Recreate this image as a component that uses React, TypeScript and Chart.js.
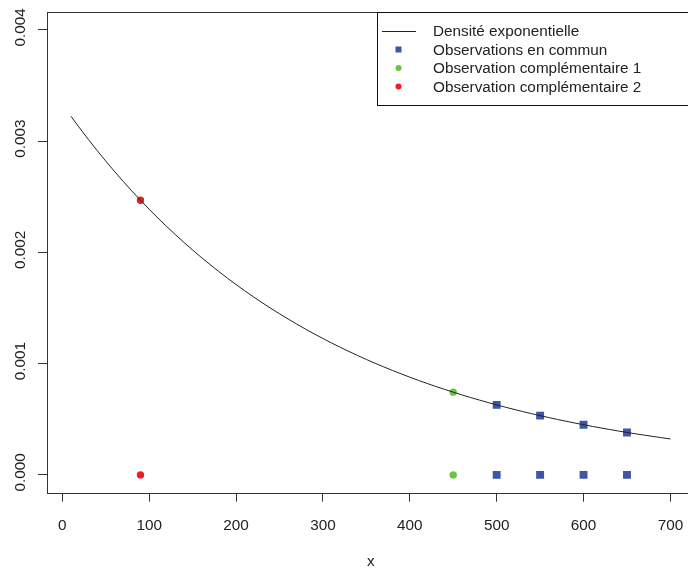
import { useEffect, useRef } from 'react';
import { Chart, registerables } from 'chart.js';
Chart.register(...registerables);

const curveX = [10, 20, 30, 40, 50, 60, 70, 80, 90, 100, 110, 120, 130, 140, 150, 160, 170, 180, 190, 200, 210, 220, 230, 240, 250, 260, 270, 280, 290, 300, 310, 320, 330, 340, 350, 360, 370, 380, 390, 400, 410, 420, 430, 440, 450, 460, 470, 480, 490, 500, 510, 520, 530, 540, 550, 560, 570, 580, 590, 600, 610, 620, 630, 640, 650, 660, 670, 680, 690, 700];
const curveY = [0.0032241, 0.0031184, 0.0030161, 0.0029172, 0.0028216, 0.0027291, 0.0026396, 0.0025531, 0.0024694, 0.0023884, 0.0023101, 0.0022344, 0.0021612, 0.0020903, 0.0020218, 0.0019555, 0.0018914, 0.0018294, 0.0017694, 0.0017114, 0.0016553, 0.0016010, 0.0015485, 0.0014978, 0.0014487, 0.0014012, 0.0013552, 0.0013108, 0.0012678, 0.0012263, 0.0011861, 0.0011472, 0.0011096, 0.0010732, 0.0010380, 0.0010040, 0.0009711, 0.0009392, 0.0009084, 0.0008787, 0.0008498, 0.0008220, 0.0007950, 0.0007690, 0.0007438, 0.0007194, 0.0006958, 0.0006730, 0.0006509, 0.0006296, 0.0006089, 0.0005890, 0.0005697, 0.0005510, 0.0005329, 0.0005155, 0.0004986, 0.0004822, 0.0004664, 0.0004511, 0.0004363, 0.0004220, 0.0004082, 0.0003948, 0.0003819, 0.0003693, 0.0003572, 0.0003455, 0.0003342, 0.0003232];

const communX = [500, 550, 600, 650];
const communY = [0.0006296, 0.0005329, 0.0004511, 0.0003819];
const comp1X = [450];
const comp1Y = [0.0007438];
const comp2X = [90];
const comp2Y = [0.0024694];

const xTicks = [0, 100, 200, 300, 400, 500, 600, 700];
const yTicks = [0, 0.001, 0.002, 0.003, 0.004];
const yTickLabels = ['0.000', '0.001', '0.002', '0.003', '0.004'];
const legendLabels = ['Densité exponentielle', 'Observations en commun', 'Observation complémentaire 1', 'Observation complémentaire 2'];
const xTitle = 'x';

const BLUE = '#3D56A6';
const GREEN = '#6CC244';
const RED = '#EE1C25';
const FONT_FAMILY = '"Liberation Sans", Arial, sans-serif';
const FONT_SIZE = 15.3;

const rPlugin = {
  id: 'rstyle',
  afterDraw(chart: any) {
    const { ctx, chartArea: a, scales } = chart;
    ctx.save();
    ctx.strokeStyle = '#333';
    ctx.lineWidth = 1;
    ctx.strokeRect(Math.round(a.left) + 0.5, Math.round(a.top) + 0.5, Math.round(a.right - a.left), Math.round(a.bottom - a.top));
    ctx.font = `${FONT_SIZE}px ${FONT_FAMILY}`;
    ctx.fillStyle = '#222';
    ctx.textAlign = 'center';
    ctx.textBaseline = 'middle';
    yTicks.forEach((v, i) => {
      const py = scales.y.getPixelForValue(v);
      ctx.save();
      ctx.translate(20.5, py - 2.5);
      ctx.rotate(-Math.PI / 2);
      ctx.fillText(yTickLabels[i], 0, 0);
      ctx.restore();
    });
    ctx.fillText(xTitle, (a.left + a.right) / 2, 562);

    // legend
    const lx = 377.5, ly = Math.round(a.top) + 0.5, lr = a.right + 2, lb = 105.5;
    ctx.fillStyle = '#fff';
    ctx.fillRect(lx, ly, lr - lx, lb - ly);
    ctx.strokeStyle = '#111';
    ctx.strokeRect(lx, ly, lr - lx, lb - ly);
    const rows = [31, 49.5, 68, 86.5];
    const symX = 398.5;
    ctx.textAlign = 'left';
    ctx.fillStyle = '#222';
    legendLabels.forEach((t, i) => ctx.fillText(t, 433, rows[i] + 1));
    ctx.strokeStyle = '#222';
    ctx.beginPath();
    ctx.moveTo(382, rows[0] + 0.5);
    ctx.lineTo(416, rows[0] + 0.5);
    ctx.stroke();
    ctx.fillStyle = BLUE;
    ctx.fillRect(symX - 3, rows[1] - 3, 6, 6);
    ctx.fillStyle = GREEN;
    ctx.beginPath();
    ctx.arc(symX, rows[2], 3, 0, Math.PI * 2);
    ctx.fill();
    ctx.fillStyle = RED;
    ctx.beginPath();
    ctx.arc(symX, rows[3], 3, 0, Math.PI * 2);
    ctx.fill();
    ctx.restore();
  },
};

export default function App() {
  const ref = useRef<HTMLCanvasElement>(null);
  useEffect(() => {
    if (!ref.current) return;
    const onCurve = (xs: number[], ys: number[]) => xs.map((x, i) => ({ x, y: ys[i] })).concat(xs.map((x) => ({ x, y: 0 })));
    const chart = new Chart(ref.current, {
      type: 'scatter',
      data: {
        datasets: [
          {
            label: legendLabels[0],
            data: curveX.map((x, i) => ({ x, y: curveY[i] })),
            showLine: true,
            borderColor: '#222',
            borderWidth: 1,
            pointRadius: 0,
            tension: 0,
          },
          {
            label: legendLabels[1],
            data: onCurve(communX, communY),
            pointStyle: 'rect',
            pointRadius: 5.6,
            backgroundColor: BLUE,
            borderWidth: 0,
          },
          {
            label: legendLabels[2],
            data: onCurve(comp1X, comp1Y),
            pointStyle: 'circle',
            pointRadius: 3.7,
            backgroundColor: GREEN,
            borderWidth: 0,
          },
          {
            label: legendLabels[3],
            data: onCurve(comp2X, comp2Y),
            pointStyle: 'circle',
            pointRadius: 3.7,
            backgroundColor: RED,
            borderWidth: 0,
          },
        ],
      },
      options: {
        animation: false,
        responsive: false,
        layout: { padding: { left: 0, top: 11, right: 4.3, bottom: 0 } },
        plugins: { legend: { display: false }, tooltip: { enabled: false } },
        scales: {
          x: {
            type: 'linear',
            min: -17.6,
            max: 727.6,
            afterBuildTicks: (s: any) => { s.ticks = xTicks.map((v) => ({ value: v })); },
            afterFit: (s: any) => { s.height = 77.3; },
            border: { display: false },
            grid: { drawOnChartArea: false, drawTicks: true, tickLength: 9, color: '#333' },
            ticks: {
              autoSkip: false,
              maxRotation: 0,
              padding: 15,
              color: '#222',
              font: { family: FONT_FAMILY, size: FONT_SIZE },
              callback: (v: any) => String(v),
            },
          },
          y: {
            type: 'linear',
            min: -0.00016,
            max: 0.00416,
            afterBuildTicks: (s: any) => { s.ticks = yTicks.map((v) => ({ value: v })); },
            afterFit: (s: any) => { s.width = 47; },
            border: { display: false },
            grid: { drawOnChartArea: false, drawTicks: true, tickLength: 9, color: '#333' },
            ticks: {
              autoSkip: false,
              color: 'rgba(0,0,0,0)',
              font: { family: FONT_FAMILY, size: FONT_SIZE },
            },
          },
        },
      },
      plugins: [rPlugin],
    });
    return () => chart.destroy();
  }, []);
  return (
    <div style={{ position: 'absolute', left: 0, top: 0, width: 688, height: 570, overflow: 'hidden', background: '#fff' }}>
      <canvas ref={ref} width={700} height={570} style={{ width: 700, height: 570, display: 'block' }} />
    </div>
  );
}
